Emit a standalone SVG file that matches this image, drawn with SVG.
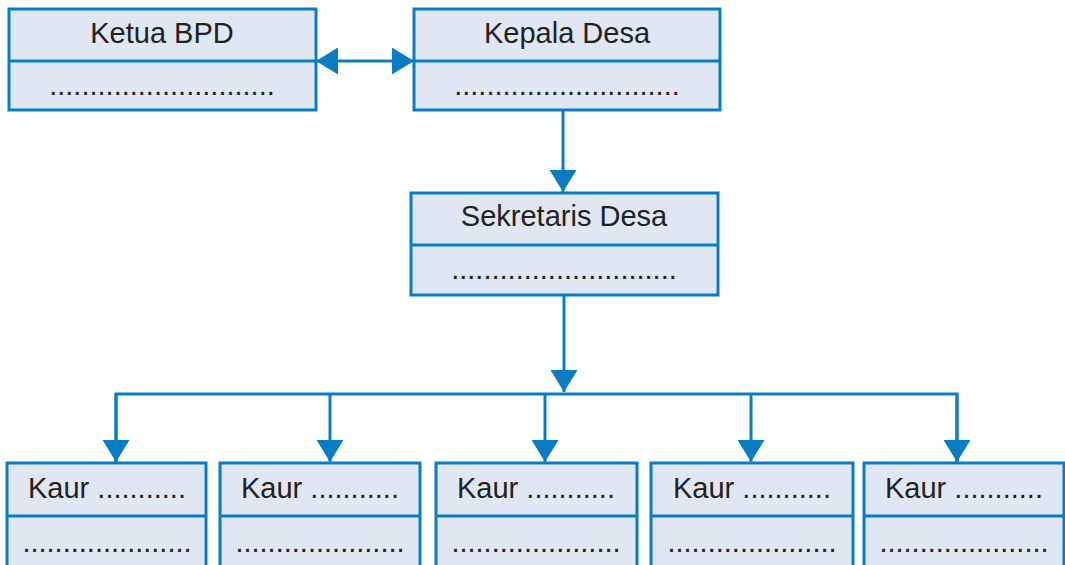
<svg xmlns="http://www.w3.org/2000/svg" width="1065" height="565" viewBox="0 0 1065 565">
<style>
.box{fill:#e0e7f3;stroke:#0a7cc4;stroke-width:3}
.div{stroke:#0a7cc4;stroke-width:3}
.t{font-family:"Liberation Sans",Arial,sans-serif;font-size:29px;fill:#222;text-anchor:middle}
.c{stroke:#0a7cc4;stroke-width:3;fill:none}
</style>
<defs>
<marker id="ah" viewBox="0 0 22 27" refX="22" refY="13.5" markerWidth="22" markerHeight="27" markerUnits="userSpaceOnUse" orient="auto-start-reverse">
<path d="M0,0 L22,13.5 L0,27 Z" fill="#0a7cc4"/>
</marker>
</defs>
<rect width="1065" height="565" fill="#fff"/>
<g id="ketua-bpd">
<rect class="box" x="9" y="9" width="307" height="101"/>
<line class="div" x1="9" y1="61" x2="316" y2="61"/>
<text class="t" x="162" y="43">Ketua BPD</text>
<text class="t" x="162" y="95">............................</text>
</g>
<g id="kepala-desa">
<rect class="box" x="414" y="9" width="306" height="101"/>
<line class="div" x1="414" y1="61" x2="720" y2="61"/>
<text class="t" x="567" y="43">Kepala Desa</text>
<text class="t" x="567" y="95">............................</text>
</g>
<g id="sekretaris-desa">
<rect class="box" x="411" y="193" width="307" height="102"/>
<line class="div" x1="411" y1="245" x2="718" y2="245"/>
<text class="t" x="564" y="226">Sekretaris Desa</text>
<text class="t" x="564" y="279">............................</text>
</g>
<g id="kaur-1">
<rect class="box" x="7" y="463" width="199" height="110"/>
<line class="div" x1="7" y1="516" x2="206" y2="516"/>
<text class="t" x="107" y="498">Kaur ...........</text>
<text class="t" x="107" y="552">.....................</text>
</g>
<g id="kaur-2">
<rect class="box" x="220" y="463" width="200" height="110"/>
<line class="div" x1="220" y1="516" x2="420" y2="516"/>
<text class="t" x="320" y="498">Kaur ...........</text>
<text class="t" x="320" y="552">.....................</text>
</g>
<g id="kaur-3">
<rect class="box" x="436" y="463" width="201" height="110"/>
<line class="div" x1="436" y1="516" x2="637" y2="516"/>
<text class="t" x="536" y="498">Kaur ...........</text>
<text class="t" x="536" y="552">.....................</text>
</g>
<g id="kaur-4">
<rect class="box" x="651" y="463" width="202" height="110"/>
<line class="div" x1="651" y1="516" x2="853" y2="516"/>
<text class="t" x="752" y="498">Kaur ...........</text>
<text class="t" x="752" y="552">.....................</text>
</g>
<g id="kaur-5">
<rect class="box" x="864" y="463" width="200" height="110"/>
<line class="div" x1="864" y1="516" x2="1064" y2="516"/>
<text class="t" x="964" y="498">Kaur ...........</text>
<text class="t" x="964" y="552">.....................</text>
</g>
<g id="connectors">
<line class="c" x1="316" y1="61" x2="414" y2="61" marker-start="url(#ah)" marker-end="url(#ah)"/>
<line class="c" x1="563" y1="110" x2="563" y2="192" marker-end="url(#ah)"/>
<line class="c" x1="564" y1="295" x2="564" y2="392" marker-end="url(#ah)"/>
<polyline class="c" points="116,462 116,394 957,394 957,462"/>
<line class="c" x1="116" y1="394" x2="116" y2="462" marker-end="url(#ah)"/>
<line class="c" x1="330" y1="394" x2="330" y2="462" marker-end="url(#ah)"/>
<line class="c" x1="545" y1="394" x2="545" y2="462" marker-end="url(#ah)"/>
<line class="c" x1="751" y1="394" x2="751" y2="462" marker-end="url(#ah)"/>
<line class="c" x1="957" y1="394" x2="957" y2="462" marker-end="url(#ah)"/>
</g>
</svg>
